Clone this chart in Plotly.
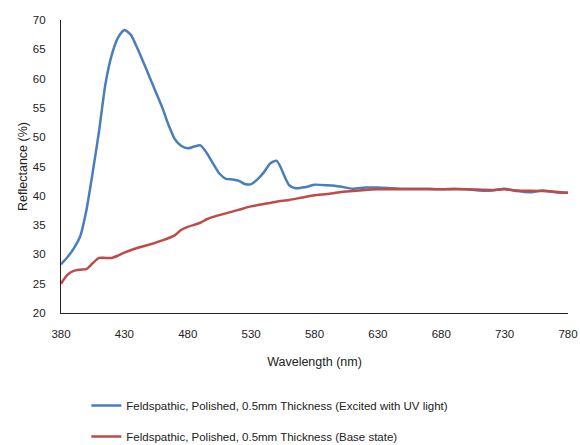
import plotly.graph_objects as go

wl_uv = [380, 385, 390, 395, 400, 405, 410, 415, 420, 425, 430, 435, 440, 445, 450, 455, 460, 465, 470, 475,
         480, 485, 490, 495, 500, 505, 510, 515, 520, 525, 530, 535, 540, 545, 550, 553, 557, 560, 565, 570,
         575, 580, 590, 600, 610, 620, 630, 640, 650, 660, 670, 680, 690, 700, 710, 720, 730, 740, 750, 760,
         770, 780]
refl_uv = [28.3, 29.5, 31.0, 33.0, 37.5, 44.0, 51.0, 59.0, 64.0, 67.0, 68.3, 67.5, 65.3, 62.8, 60.2, 57.6, 55.0, 52.0, 49.6, 48.5,
           48.1, 48.4, 48.6, 47.3, 45.5, 43.8, 42.9, 42.8, 42.6, 42.0, 42.0, 42.8, 44.0, 45.5, 46.0, 45.0, 43.0, 41.8, 41.3, 41.4,
           41.6, 41.9, 41.8, 41.6, 41.2, 41.4, 41.4, 41.3, 41.2, 41.2, 41.2, 41.1, 41.2, 41.1, 40.9, 40.9, 41.2, 40.8, 40.6, 40.9,
           40.6, 40.5]

wl_base = [380, 385, 390, 395, 400, 405, 410, 415, 420, 425, 430, 440, 450, 460, 470, 475, 480, 490, 495, 500,
           510, 520, 530, 540, 550, 560, 570, 580, 590, 600, 610, 620, 630, 640, 660, 680, 700, 720, 730, 740,
           760, 780]
refl_base = [25.0, 26.5, 27.2, 27.4, 27.5, 28.5, 29.4, 29.4, 29.4, 29.8, 30.3, 31.1, 31.7, 32.4, 33.3, 34.2, 34.7, 35.4, 36.0, 36.4,
             37.0, 37.6, 38.2, 38.6, 39.0, 39.3, 39.7, 40.1, 40.3, 40.6, 40.8, 41.0, 41.1, 41.1, 41.1, 41.1, 41.1, 41.0, 41.1, 40.9,
             40.8, 40.5]

x_ticks = [380, 430, 480, 530, 580, 630, 680, 730, 780]
y_ticks = [20, 25, 30, 35, 40, 45, 50, 55, 60, 65, 70]

name_uv = "Feldspathic, Polished, 0.5mm Thickness (Excited with UV light)"
name_base = "Feldspathic, Polished, 0.5mm Thickness (Base state)"

FONT = "Liberation Sans, Arial, sans-serif"

fig = go.Figure()
fig.add_trace(go.Scatter(x=wl_uv, y=refl_uv, mode="lines", name=name_uv, legendgroup="a",
                         line=dict(color="#4A7EBB", width=2.5, shape="spline", smoothing=0.6)))
fig.add_trace(go.Scatter(x=wl_base, y=refl_base, mode="lines", name=name_base, legendgroup="b",
                         line=dict(color="#BE4B48", width=2.5, shape="spline", smoothing=0.6)))

fig.update_layout(
    width=580, height=445,
    margin=dict(l=61, r=12, t=20, b=132, autoexpand=False),
    paper_bgcolor="white", plot_bgcolor="white",
    font=dict(family=FONT, size=11.5, color="#222222"),
    xaxis=dict(range=[380, 780], tickvals=x_ticks, showgrid=False, zeroline=False,
               showline=True, linecolor="#222222", linewidth=1.2, ticks="",
               ticklabelstandoff=10,
               title=dict(text="Wavelength (nm)", font=dict(size=12.5), standoff=18),
               tickfont=dict(size=11.5)),
    yaxis=dict(range=[20, 70], tickvals=y_ticks, showgrid=False, zeroline=False,
               showline=True, linecolor="#222222", linewidth=1.2, ticks="",
               ticklabelstandoff=12,
               title=dict(text="Reflectance (%)", font=dict(size=12.5), standoff=2),
               tickfont=dict(size=11.5)),
    showlegend=True,
    legend=dict(orientation="v", x=0.05, xanchor="left", y=-0.266, yanchor="top",
                tracegroupgap=12, font=dict(size=11.5), itemwidth=30,
                bgcolor="rgba(0,0,0,0)"),
)

# remove the default page margin so the 580x445 figure fills the window exactly
fig.write_html("out.html",
               config={"displayModeBar": False},
               post_script="document.body.style.margin='0';document.body.style.overflow='hidden';")
